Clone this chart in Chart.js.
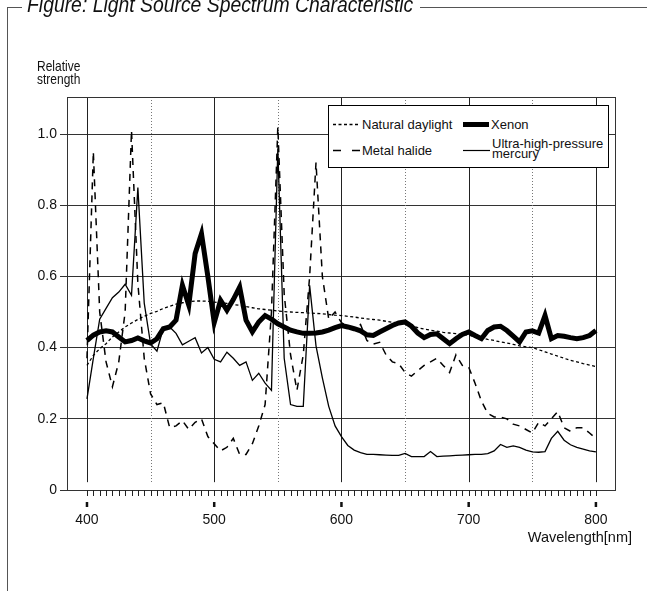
<!DOCTYPE html>
<html lang="en">
<head>
<meta charset="UTF-8">
<title>Light Source Spectrum Characteristic</title>
<script src="https://cdn.jsdelivr.net/npm/chart.js"></script>
<style>
    * { margin: 0; padding: 0; box-sizing: border-box; }
    body { background: #fff; font-family: 'Liberation Sans', Arial, sans-serif; color: #111; }
    .page { position: relative; width: 647px; height: 591px; overflow: hidden; }
    .page canvas { position: absolute; left: 0; top: 0; }

    /* figure frame round the chart */
    .frame-left { position: absolute; left: 7px; top: 7px; width: 1px; height: 600px; background: #555; }
    .frame-top { position: absolute; top: 7px; height: 1px; background: #555; }
    .title { position: absolute; left: 27px; top: -6px; font-size: 22px; line-height: 22px; font-style: italic; white-space: nowrap;
             transform: scaleX(0.88); transform-origin: left top; }

    .ylabel { position: absolute; left: 37px; top: 58.7px; font-size: 15px; line-height: 13.5px; transform: scaleX(0.8); transform-origin: left top; }
    .xlabel { position: absolute; right: 15px; top: 530px; font-size: 14.5px; line-height: 14.5px; white-space: nowrap; }

    .legend { position: absolute; left: 328px; top: 105px; width: 281px; height: 63px; border: 1px solid #000; background: #fff; }
    .legend svg { position: absolute; left: 0; top: 0; }
    .legend span { position: absolute; font-size: 13px; line-height: 13px; white-space: nowrap; }
</style>
</head>
<body>
<div class="page">
    <canvas id="spectrumChart"></canvas>

    <div class="frame-left"></div>
    <div class="frame-top" style="left: 7px; width: 15px;"></div>
    <div class="frame-top" style="left: 420px; width: 227px;"></div>
    <div class="title">Figure: Light Source Spectrum Characteristic</div>

    <div class="ylabel">Relative<br>strength</div>
    <div class="xlabel">Wavelength[nm]</div>

    <div class="legend">
        <svg width="279" height="61">
            <line x1="4" y1="18.5" x2="31" y2="18.5" stroke="#000" stroke-width="1.3" stroke-dasharray="3 2.5"/>
            <line x1="134" y1="18.5" x2="160" y2="18.5" stroke="#000" stroke-width="5"/>
            <line x1="4" y1="44.5" x2="31" y2="44.5" stroke="#000" stroke-width="1.5" stroke-dasharray="8 11"/>
            <line x1="134" y1="44.5" x2="161" y2="44.5" stroke="#000" stroke-width="1.2"/>
        </svg>
        <span style="left: 33px; top: 11.5px;">Natural daylight</span>
        <span style="left: 162px; top: 11.5px;">Xenon</span>
        <span style="left: 33px; top: 38px;">Metal halide</span>
        <span style="left: 163px; top: 31.3px;">Ultra-high-pressure</span>
        <span style="left: 163px; top: 40.5px;">mercury</span>
    </div>
</div>

<script>
    // wavelength of each sample [nm]
    const wavelengths = [
        400, 405, 410, 415, 420, 425, 430, 435, 440, 445,
        450, 455, 460, 465, 470, 475, 480, 485, 490, 495,
        500, 505, 510, 515, 520, 525, 530, 535, 540, 545,
        550, 555, 560, 565, 570, 575, 580, 585, 590, 595,
        600, 605, 610, 615, 620, 625, 630, 635, 640, 645,
        650, 655, 660, 665, 670, 675, 680, 685, 690, 695,
        700, 705, 710, 715, 720, 725, 730, 735, 740, 745,
        750, 755, 760, 765, 770, 775, 780, 785, 790, 795,
        800
    ];

    // relative strength
    const daylight = [
        0.35, 0.378, 0.397, 0.411, 0.43, 0.444, 0.458, 0.469, 0.479, 0.488,
        0.496, 0.502, 0.51, 0.516, 0.522, 0.526, 0.529, 0.531, 0.531, 0.53,
        0.528, 0.526, 0.524, 0.521, 0.519, 0.515, 0.512, 0.509, 0.507, 0.505,
        0.503, 0.501, 0.5, 0.499, 0.498, 0.497, 0.496, 0.495, 0.493, 0.491,
        0.49, 0.488, 0.486, 0.483, 0.481, 0.479, 0.477, 0.474, 0.471, 0.469,
        0.466, 0.461, 0.456, 0.452, 0.449, 0.446, 0.443, 0.441, 0.439, 0.437,
        0.435, 0.43, 0.427, 0.423, 0.42, 0.416, 0.413, 0.409, 0.405, 0.402,
        0.4, 0.394, 0.388, 0.382, 0.376, 0.37, 0.364, 0.36, 0.355, 0.351,
        0.347
    ];
    const xenon = [
        0.42, 0.435, 0.444, 0.447, 0.444, 0.43, 0.416, 0.42, 0.427, 0.419,
        0.413, 0.425, 0.453, 0.458, 0.477, 0.575, 0.519, 0.664, 0.72, 0.6,
        0.47, 0.533, 0.505, 0.535, 0.57, 0.477, 0.444, 0.472, 0.49, 0.48,
        0.467, 0.458, 0.449, 0.444, 0.44, 0.44, 0.441, 0.444, 0.449, 0.456,
        0.462, 0.458, 0.453, 0.447, 0.436, 0.434, 0.444, 0.453, 0.462, 0.469,
        0.472, 0.46, 0.441, 0.428, 0.437, 0.439, 0.425, 0.411, 0.425, 0.437,
        0.444, 0.434, 0.425, 0.448, 0.458, 0.46, 0.448, 0.432, 0.416, 0.444,
        0.447, 0.441, 0.49, 0.425, 0.434, 0.432, 0.428, 0.425, 0.428, 0.434,
        0.448
    ];
    const metalHalide = [
        0.37, 0.95, 0.5, 0.36, 0.29, 0.36, 0.5, 1.01, 0.58, 0.37,
        0.27, 0.24, 0.245, 0.175, 0.18, 0.195, 0.17, 0.19, 0.2, 0.15,
        0.13, 0.11, 0.12, 0.145, 0.1, 0.1, 0.13, 0.18, 0.24, 0.5,
        1.02, 0.55, 0.38, 0.28, 0.38, 0.6, 0.92, 0.6, 0.48, 0.5,
        0.47, 0.46, 0.45, 0.465, 0.42, 0.41, 0.415, 0.38, 0.36, 0.355,
        0.33, 0.32, 0.335, 0.35, 0.36, 0.37, 0.35, 0.33, 0.38, 0.35,
        0.345, 0.3, 0.25, 0.215, 0.205, 0.205, 0.2, 0.185, 0.18, 0.17,
        0.16, 0.19, 0.18, 0.2, 0.22, 0.175, 0.165, 0.175, 0.175, 0.16,
        0.145
    ];
    const mercury = [
        0.256, 0.37, 0.48, 0.51, 0.54, 0.556, 0.578, 0.547, 0.85, 0.525,
        0.41, 0.39, 0.455, 0.458, 0.44, 0.408, 0.418, 0.428, 0.385, 0.4,
        0.367, 0.36, 0.387, 0.37, 0.35, 0.36, 0.308, 0.328, 0.3, 0.28,
        0.96, 0.37, 0.24, 0.235, 0.235, 0.575, 0.405, 0.315, 0.235, 0.18,
        0.15, 0.125, 0.112, 0.105, 0.1, 0.1, 0.099, 0.098, 0.097, 0.097,
        0.103, 0.094, 0.094, 0.094, 0.108, 0.094, 0.095, 0.096, 0.097, 0.098,
        0.099, 0.1, 0.1, 0.102, 0.11, 0.128, 0.12, 0.124, 0.12, 0.112,
        0.107, 0.106, 0.108, 0.145, 0.165, 0.14, 0.127, 0.12, 0.115, 0.11,
        0.107
    ];

    // axes
    const xTickLabels = [400, 500, 600, 700, 800];
    const xDottedLines = [450, 550, 650, 750];
    const yTickLabels = [0, 0.2, 0.4, 0.6, 0.8, 1.0];

    const toPoints = arr => wavelengths.map((w, i) => ({ x: w, y: arr[i] }));

    // vertical grid (stops short of the axis), plot frame and the ticks under it
    const frameLines = {
        id: 'frameLines',
        beforeDatasetsDraw(chart) {
            const { ctx, chartArea: a, scales: { x, y } } = chart;
            const stop = y.getPixelForValue(0.022);
            ctx.save();
            ctx.lineWidth = 1;
            ctx.strokeStyle = '#222';
            xTickLabels.forEach(v => {
                const px = Math.round(x.getPixelForValue(v)) + 0.5;
                ctx.beginPath(); ctx.moveTo(px, a.top); ctx.lineTo(px, stop); ctx.stroke();
            });
            ctx.strokeStyle = '#777';
            ctx.setLineDash([1, 2]);
            xDottedLines.forEach(v => {
                const px = Math.round(x.getPixelForValue(v)) + 0.5;
                ctx.beginPath(); ctx.moveTo(px, a.top); ctx.lineTo(px, stop); ctx.stroke();
            });
            ctx.restore();
        },
        afterDatasetsDraw(chart) {
            const { ctx, chartArea: a, scales: { x } } = chart;
            ctx.save();
            ctx.strokeStyle = '#333';
            ctx.lineWidth = 1;
            ctx.strokeRect(Math.round(a.left) + 0.5, Math.round(a.top) + 0.5,
                Math.round(a.right - a.left), Math.round(a.bottom - a.top));
            // minor ticks, one per sample
            ctx.strokeStyle = '#222';
            wavelengths.forEach(w => {
                const px = Math.round(x.getPixelForValue(w)) + 0.5;
                ctx.beginPath(); ctx.moveTo(px, a.bottom); ctx.lineTo(px, a.bottom + 6); ctx.stroke();
            });
            // major ticks
            ctx.lineWidth = 2.5;
            ctx.strokeStyle = '#111';
            xTickLabels.forEach(v => {
                const px = x.getPixelForValue(v);
                ctx.beginPath(); ctx.moveTo(px, a.bottom + 12); ctx.lineTo(px, a.bottom + 17); ctx.stroke();
            });
            ctx.restore();
        }
    };

    Chart.defaults.font.family = "'Liberation Sans', Arial, sans-serif";
    Chart.defaults.color = '#111';

    const chart = new Chart(document.getElementById('spectrumChart'), {
        type: 'line',
        data: {
            datasets: [
                { label: 'Xenon', data: toPoints(xenon), borderColor: '#000', borderWidth: 5, order: 0 },
                { label: 'Ultra-high-pressure mercury', data: toPoints(mercury), borderColor: '#000', borderWidth: 1.3, order: 1 },
                { label: 'Metal halide', data: toPoints(metalHalide), borderColor: '#000', borderWidth: 1.5, borderDash: [7, 6], order: 2 },
                { label: 'Natural daylight', data: toPoints(daylight), borderColor: '#000', borderWidth: 1.3, borderDash: [3, 2.5], order: 3 }
            ]
        },
        options: {
            responsive: true,
            maintainAspectRatio: false,
            animation: false,
            elements: { point: { radius: 0 }, line: { tension: 0, fill: false } },
            layout: { padding: { top: 97, right: 32, left: 0, bottom: 0 } },
            plugins: { legend: { display: false }, tooltip: { enabled: false } },
            scales: {
                x: {
                    type: 'linear',
                    min: 384.3,
                    max: 815,
                    grid: { display: false },
                    border: { display: false },
                    afterBuildTicks: s => { s.ticks = xTickLabels.map(v => ({ value: v })); },
                    afterFit: s => { s.height = 101; },
                    ticks: { font: { size: 14 }, padding: 14, maxRotation: 0, autoSkip: false }
                },
                y: {
                    min: 0,
                    max: 1.104,
                    grid: { color: '#333', lineWidth: 1, drawTicks: true, tickLength: 7, tickColor: '#333' },
                    border: { display: false },
                    afterBuildTicks: s => { s.ticks = yTickLabels.map(v => ({ value: v })); },
                    afterFit: s => { s.width = 67; },
                    ticks: {
                        font: { size: 14 },
                        padding: 3,
                        callback: v => (v === 0 ? '0' : v.toFixed(1))
                    }
                }
            }
        },
        plugins: [frameLines]
    });
</script>
</body>
</html>
